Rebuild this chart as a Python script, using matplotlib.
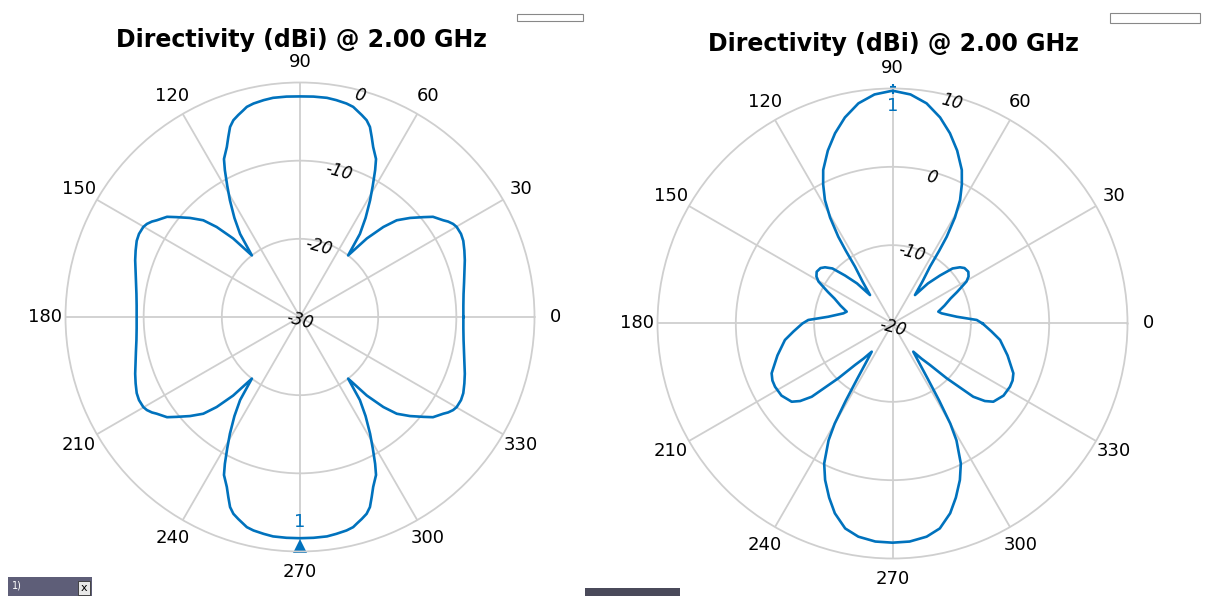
import numpy as np
import matplotlib.pyplot as plt
from matplotlib.patches import Rectangle

# Directivity cut, left view (deg, dBi)
left_angles = [0, 4, 8, 12, 16, 19, 22, 25, 27.3, 29.9, 31.3, 32.8, 34, 35.5, 37, 39, 42, 45, 47.2, 49.6,
               52, 54.2, 56.5, 59, 61, 62.9, 64.3, 66.7, 68.3, 69.8, 71.3, 73, 74.5, 75.8, 77.7, 80.5, 83,
               86.5, 90,
               93.5, 97, 99.5, 102.3, 104.2, 105.5, 107, 108.7, 110.2, 111.7, 113.3, 115.7, 117.1, 119, 121,
               123.5, 125.8, 128, 130.4, 132.8, 135, 138, 141, 143, 144.5, 146, 147.2, 148.7, 150.1, 152.7,
               155, 158, 161, 164, 168, 172, 176, 180,
               184, 188, 192, 196, 199, 202, 205, 207.3, 209.9, 211.3, 212.8, 214, 215.5, 217, 219, 222, 225,
               227.2, 229.6, 232, 234.2, 236.5, 239, 241, 242.9, 244.3, 246.7, 248.3, 249.8, 251.3, 253,
               254.5, 255.8, 257.7, 260.5, 263, 266.5, 270,
               273.5, 277, 279.5, 282.3, 284.2, 285.5, 287, 288.7, 290.2, 291.7, 293.3, 295.7, 297.1, 299,
               301, 303.5, 305.8, 308, 310.4, 312.8, 315, 318, 321, 323, 324.5, 326, 327.2, 328.7, 330.1,
               332.7, 335, 338, 341, 344, 348, 352, 356, 360]
left_db = [-9.10, -9.05, -8.87, -8.54, -8.11, -7.70, -7.32, -6.95, -6.82, -6.88, -7.08, -7.46, -7.88, -8.30,
           -8.70, -9.70, -11.06, -12.50, -14.30, -16.80, -20.0, -16.90, -14.80, -12.60, -10.80, -8.90, -7.57,
           -6.33, -5.20, -4.09, -3.42, -2.98, -2.62, -2.27, -2.05, -1.87, -1.75, -1.75, -1.78,
           -1.75, -1.75, -1.87, -2.05, -2.27, -2.62, -2.98, -3.42, -4.09, -5.20, -6.33, -7.57, -8.90,
           -10.80, -12.60, -14.80, -16.90, -20.0, -16.80, -14.30, -12.50, -11.06, -9.70, -8.70, -8.30,
           -7.88, -7.46, -7.08, -6.88, -6.82, -6.95, -7.32, -7.70, -8.11, -8.54, -8.87, -9.05, -9.10,
           -9.05, -8.87, -8.54, -8.11, -7.70, -7.32, -6.95, -6.82, -6.88, -7.08, -7.46, -7.88, -8.30, -8.70,
           -9.70, -11.06, -12.50, -14.30, -16.80, -20.0, -16.90, -14.80, -12.60, -10.80, -8.90, -7.57, -6.33,
           -5.20, -4.09, -3.42, -2.98, -2.62, -2.27, -2.05, -1.87, -1.72, -1.70, -1.70,
           -1.70, -1.72, -1.87, -2.05, -2.27, -2.62, -2.98, -3.42, -4.09, -5.20, -6.33, -7.57, -8.90,
           -10.80, -12.60, -14.80, -16.90, -20.0, -16.80, -14.30, -12.50, -11.06, -9.70, -8.70, -8.30,
           -7.88, -7.46, -7.08, -6.88, -6.82, -6.95, -7.32, -7.70, -8.11, -8.54, -8.87, -9.05, -9.10]

# Directivity cut, right view (deg, dBi)
right_angles = [0, 2.4, 6, 11.7, 14.5, 19, 23.3, 26, 28.5, 29.6, 31.7, 34.3, 37.6, 39.8, 42.5, 45.3, 48.5,
                51.7, 54.5, 56.6, 57.3, 58, 59.5, 61.3, 63.5, 65.7, 69.5, 73.2, 77, 81.2, 85.5, 90,
                94.5, 98.8, 103, 106.8, 110.5, 114.3, 116.5, 118.7, 120.5, 122, 122.7, 123.4, 125.5, 128.3,
                131.5, 134.7, 137.5, 140.2, 142.4, 145.7, 148.3, 150.4, 151.5, 154, 156.7, 161, 165.5, 168.3,
                174, 177.6, 180,
                184.6, 188.7, 195.5, 202.4, 205.4, 208.3, 213, 217.8, 220, 222.2, 225.3, 227.9, 230.5, 233.6,
                236, 237.5, 238.8, 240, 241.3, 244, 246.7, 250, 253.1, 257, 260.9, 265.5, 270,
                274.5, 279.1, 283, 286.9, 290, 293.3, 296, 298.7, 300, 301.2, 302.5, 304, 306.4, 309.5, 312.1,
                314.7, 317.8, 320, 322.2, 327, 331.7, 334.6, 337.6, 344.5, 351.3, 355.4, 360]
right_db = [-8.5, -9.24, -11.75, -13.6, -13.96, -12.98, -11.93, -10.83, -9.71, -9.13, -8.59, -8.28, -8.40,
            -8.79, -9.6, -11.38, -13.17, -15.37, -13.4, -11.3, -9.0, -6.94, -4.3, -2.04, -0.16, 1.5, 3.57,
            5.37, 7.0, 8.44, 9.33, 9.72,
            9.33, 8.44, 7.0, 5.37, 3.57, 1.5, -0.16, -2.04, -4.3, -6.94, -9.0, -11.3, -13.4, -15.37, -13.17,
            -11.38, -9.6, -8.79, -8.40, -8.28, -8.59, -9.13, -9.71, -10.83, -11.93, -12.98, -13.96, -13.6,
            -11.75, -9.24, -8.5,
            -7.32, -6.11, -4.76, -3.31, -3.03, -2.97, -3.1, -3.71, -4.6, -6.08, -10.16, -12.86, -14.2,
            -15.53, -13.8, -11.6, -8.5, -5.24, -3.0, -0.1, 1.75, 3.65, 5.32, 6.85, 7.56, 7.92, 7.98,
            7.92, 7.56, 6.85, 5.32, 3.65, 1.75, -0.1, -3.0, -5.24, -8.5, -11.6, -13.8, -15.53, -14.2, -12.86,
            -10.16, -6.08, -4.6, -3.71, -3.1, -2.97, -3.03, -3.31, -4.76, -6.11, -7.32, -8.5]

angle_ticks = list(range(0, 360, 30))
left_rings = [-30, -20, -10, 0]
right_rings = [-20, -10, 0, 10]
left_peak_angle = 270
right_peak_angle = 90
title_text = "Directivity (dBi) @ 2.00 GHz"

BLUE = "#0072BD"
GRID = "#cfcfcf"
W, H = 1213, 596

fig = plt.figure(figsize=(W / 100, H / 100), dpi=100)
fig.patch.set_facecolor("white")


def polar_axes(cx, cy, rad):
    return fig.add_axes([(cx - rad) / W, (H - cy - rad) / H, 2 * rad / W, 2 * rad / H],
                        projection="polar")


def style(ax, rings):
    ax.set_ylim(rings[0], rings[-1])
    ax.set_thetagrids(angle_ticks, labels=[])
    ax.set_rgrids(rings[1:-1], labels=[])
    ax.grid(True, color=GRID, linewidth=1.3)
    ax.spines["polar"].set_color(GRID)
    ax.spines["polar"].set_linewidth(1.3)
    ax.tick_params(length=0)
    ax.set_facecolor("white")
    k = 1.088
    for a in angle_ticks:
        t = np.deg2rad(a)
        ax.text(0.5 + 0.5 * k * np.cos(t), 0.5 + 0.5 * k * np.sin(t), str(a),
                transform=ax.transAxes, ha="center", va="center", fontsize=13)
    for r in rings[1:]:
        ax.text(np.deg2rad(75), r - 0.7, str(r), rotation=-15, style="italic",
                ha="center", va="center", fontsize=12)
    ax.annotate(str(rings[0]), (0, rings[0]), xytext=(0, -3), textcoords="offset points",
                ha="center", va="center", fontsize=12, style="italic", rotation=-15)


# left view
axl = polar_axes(300, 317, 234.5)
style(axl, left_rings)
axl.plot(np.deg2rad(left_angles), left_db, color=BLUE, linewidth=1.9)
lp = left_db[left_angles.index(left_peak_angle)]
axl.plot(np.deg2rad(left_peak_angle), left_rings[-1] - 0.7, marker="^", markersize=10, color=BLUE,
         clip_on=False, markeredgewidth=0)
axl.annotate("1", (np.deg2rad(left_peak_angle), lp), xytext=(0, 12), textcoords="offset points",
             ha="center", va="center", fontsize=13, color=BLUE)

# right view
axr = polar_axes(892.5, 323.5, 235)
style(axr, right_rings)
axr.plot(np.deg2rad(right_angles), right_db, color=BLUE, linewidth=1.9)
rp = right_db[right_angles.index(right_peak_angle)]
axr.plot(np.deg2rad(right_peak_angle), right_rings[-1] - 0.1, marker="|", markersize=7, color=BLUE,
         clip_on=False, markeredgewidth=1.5)
axr.plot(np.deg2rad(right_peak_angle), right_rings[-1] + 0.2, marker="_", markersize=5, color=BLUE,
         clip_on=False, markeredgewidth=1.5)
axr.annotate("1", (np.deg2rad(right_peak_angle), rp), xytext=(0, -11), textcoords="offset points",
             ha="center", va="center", fontsize=13, color=BLUE)

# titles
fig.text(301 / W, 1 - 40 / H, title_text, ha="center", va="center", fontsize=17, fontweight="bold")
fig.text(893 / W, 1 - 44 / H, title_text, ha="center", va="center", fontsize=17, fontweight="bold")

# window widgets along the edges
fig.add_artist(Rectangle((517 / W, 1 - 21 / H), 66 / W, 7 / H, transform=fig.transFigure,
                         fill=False, edgecolor="#888888", linewidth=0.8))
fig.add_artist(Rectangle((1110 / W, 1 - 23 / H), 90 / W, 10 / H, transform=fig.transFigure,
                         fill=False, edgecolor="#888888", linewidth=0.8))
fig.add_artist(Rectangle((8 / W, 0), 84 / W, 19 / H, transform=fig.transFigure,
                         facecolor="#5e5e78", edgecolor="none"))
fig.add_artist(Rectangle((78 / W, 1 / H), 12 / W, 14 / H, transform=fig.transFigure,
                         facecolor="#e8e8e8", edgecolor="#333333", linewidth=0.6))
fig.text(84 / W, 8 / H, "x", fontsize=8, color="black", ha="center", va="center")
fig.text(12 / W, 10 / H, "1)", fontsize=7, color="white", va="center")
fig.add_artist(Rectangle((585 / W, 0), 95 / W, 8 / H, transform=fig.transFigure,
                         facecolor="#4a4a5a", edgecolor="none"))

fig.savefig("out.png", dpi=100)
